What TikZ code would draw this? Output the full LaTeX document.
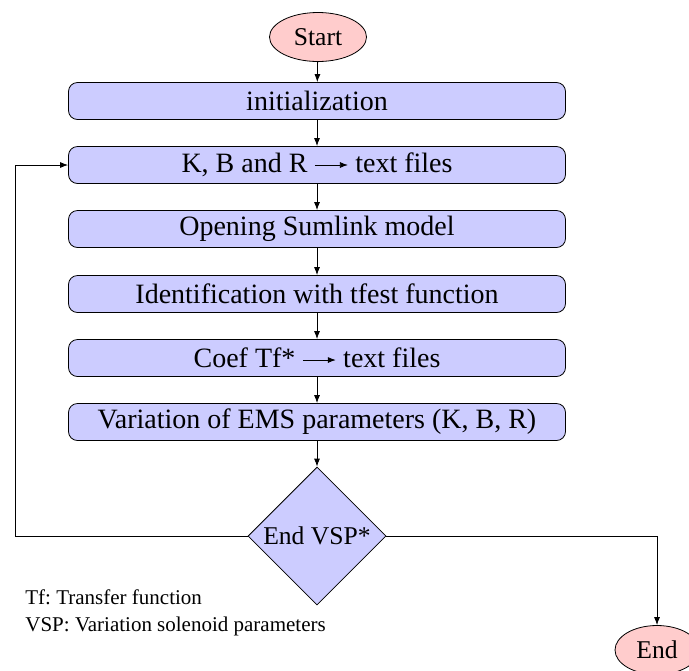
\documentclass[tikz,border=0pt]{standalone}
\usepackage{fontspec}
\setmainfont{Liberation Serif}
\frenchspacing
\usetikzlibrary{shapes.geometric,arrows.meta}
\newcommand{\txtarrow}{\hspace{3.5pt}\tikz[baseline=-0.6ex]\draw[-{Latex[length=4pt,width=3pt]}] (0pt,0pt) -- (16.5pt,0pt);\hspace{3.5pt}}
\begin{document}
\begin{tikzpicture}[x=0.5pt,y=-0.5pt,
  font=\fontsize{12.8pt}{15pt}\selectfont,
  procbox/.style={draw, rounded corners=4.5pt, fill=blue!20, minimum width=248.5pt, minimum height=18.5pt, inner sep=2pt, font=\fontsize{14pt}{16.8pt}\selectfont},
  termnode/.style={draw, ellipse, fill=red!20, minimum height=24.5pt, inner sep=1pt},
  decbox/.style={draw, diamond, aspect=1, fill=blue!20, minimum size=69pt, inner sep=0pt},
  flow/.style={-{Latex[length=4pt,width=3pt]}},
  note/.style={anchor=base west, inner sep=0pt, font=\fontsize{10.5pt}{12.6pt}\selectfont}]
\useasboundingbox (0,0) rectangle (689,670);
\node[termnode, minimum width=48.5pt] (start) at (318,37) {Start};
\node[procbox] (init) at (317,101) {initialization};
\node[procbox] (kbr) at (317,165) {K, B and R\txtarrow text files};
\node[procbox] (open) at (317,229) {Opening Sumlink model};
\node[procbox] (ident) at (317,294) {Identification with tfest function};
\node[procbox] (coef) at (317,358) {Coef Tf*\txtarrow text files};
\node[procbox] (var) at (317,422) {Variation of EMS parameters (K, B, R)};
\node[decbox] (dec) at (317,536) {End VSP*};
\node[termnode, minimum width=42pt] (end) at (657,650) {End};
\node[note] (n1) at (25,604) {Tf: Transfer function};
\node[note] (n2) at (25,631) {VSP: Variation solenoid parameters};
\coordinate (loop) at (15,536);
\draw[flow] (start) -- (init);
\draw[flow] (init) -- (kbr);
\draw[flow] (kbr) -- (open);
\draw[flow] (open) -- (ident);
\draw[flow] (ident) -- (coef);
\draw[flow] (coef) -- (var);
\draw[flow] (var) -- (dec);
\draw[flow] (dec.west) -- (loop) |- (kbr.west);
\draw[flow] (dec.east) -| (end.north);
\end{tikzpicture}
\end{document}
